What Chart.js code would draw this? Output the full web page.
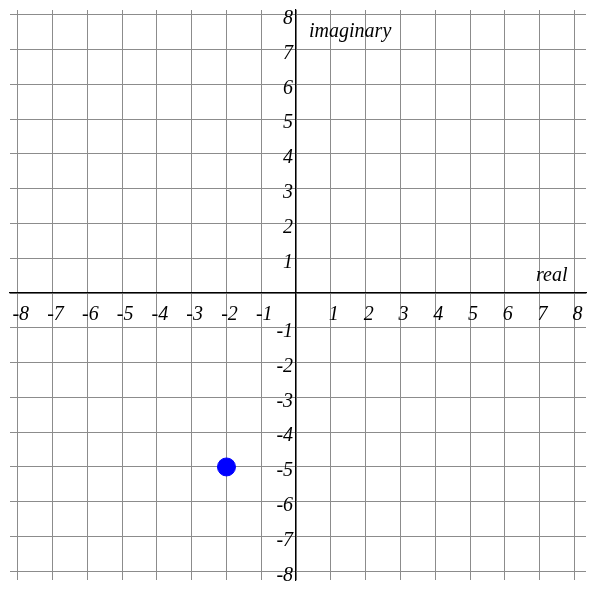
<!DOCTYPE html>
<html>
<head>
<meta charset="utf-8">
<script src="https://cdn.jsdelivr.net/npm/chart.js@4"></script>
<style>
  html, body { margin: 0; padding: 0; background: #fff; }
  #wrap { width: 596px; height: 590px; }
</style>
</head>
<body>
<div id="wrap"><canvas id="c"></canvas></div>
<script>
const tickValues = [-8, -7, -6, -5, -4, -3, -2, -1, 0, 1, 2, 3, 4, 5, 6, 7, 8];
const points = [{ x: -2, y: -5 }];
const xTitle = 'real';
const yTitle = 'imaginary';

const setTicks = (scale) => {
  scale.ticks = tickValues.map((v) => ({ value: v }));
};

// tick labels and titles drawn next to the centred axes
const axisText = {
  id: 'axisText',
  afterDraw(chart) {
    const { ctx, scales } = chart;
    const x0 = scales.x.getPixelForValue(0);
    const y0 = scales.y.getPixelForValue(0);
    ctx.save();
    ctx.fillStyle = '#000';
    ctx.font = 'italic 20px "Liberation Serif"';
    ctx.textBaseline = 'middle';
    ctx.textAlign = 'center';
    tickValues.forEach((v) => {
      if (v === 0) return;
      ctx.fillText(String(v), scales.x.getPixelForValue(v) + 3, y0 + 22);
    });
    ctx.textAlign = 'right';
    tickValues.forEach((v) => {
      if (v === 0) return;
      ctx.fillText(String(v), x0 - 3, scales.y.getPixelForValue(v) + 4);
    });
    ctx.textAlign = 'left';
    ctx.fillText(yTitle, x0 + 13, scales.y.getPixelForValue(7.5));
    ctx.textAlign = 'right';
    ctx.fillText(xTitle, scales.x.getPixelForValue(7.8), scales.y.getPixelForValue(0.5));
    ctx.restore();
  },
};

new Chart(document.getElementById('c'), {
  type: 'scatter',
  data: {
    datasets: [{
      data: points,
      backgroundColor: '#0000ff',
      borderColor: '#0000ff',
      pointRadius: 9,
      pointHoverRadius: 9,
    }],
  },
  options: {
    responsive: true,
    maintainAspectRatio: false,
    animation: false,
    layout: { padding: 0 },
    plugins: { legend: { display: false }, tooltip: { enabled: false } },
    scales: {
      x: {
        type: 'linear',
        position: { y: 0 },
        min: -296 / 36,
        max: 300 / 36,
        afterBuildTicks: setTicks,
        grid: { color: '#8c8c8c', lineWidth: 1, drawTicks: false },
        border: { display: true, color: '#000', width: 1.2 },
        ticks: { display: false },
      },
      y: {
        type: 'linear',
        position: { x: 0 },
        min: -297 / 36,
        max: 293 / 36,
        afterBuildTicks: setTicks,
        grid: { color: '#8c8c8c', lineWidth: 1, drawTicks: false },
        border: { display: true, color: '#000', width: 1.2 },
        ticks: { display: false },
      },
    },
  },
  plugins: [axisText],
});
</script>
</body>
</html>
